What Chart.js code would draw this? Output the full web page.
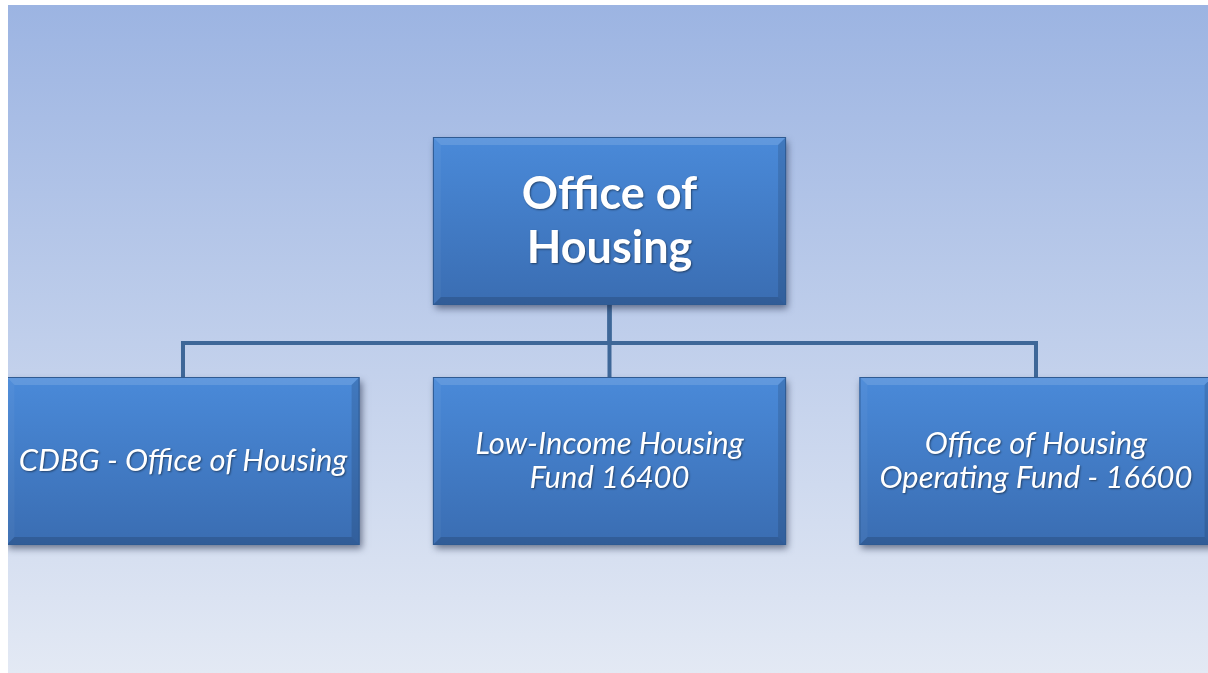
<!DOCTYPE html>
<html>
<head>
<meta charset="utf-8">
<script src="https://cdn.jsdelivr.net/npm/chart.js@4.4.1/dist/chart.umd.min.js"></script>
<style>
html, body { margin: 0; background: #fff; overflow: hidden; }
#wrap {
    position: absolute; left: 8px; top: 5px; width: 1200px; height: 668px;
    background: linear-gradient(#9cb4e2, #e3e9f4);
}
</style>
</head>
<body>
<div id="wrap"><canvas id="organograma"></canvas></div>
<script>
// nodes of the org chart
const nodeNames = [
    ['Office of', 'Housing'],
    ['CDBG - Office of Housing'],
    ['Low-Income Housing', 'Fund 16400'],
    ['Office of Housing', 'Operating Fund - 16600']
]
const nodeColumn = [1, 0, 1, 2]
const nodeLevel = [0, 1, 1, 1]
const nodeParent = [null, 0, 0, 0]

const boxW = 0.828
const boxH = 0.70
const busLevel = 0.508

// connector lines, built from the node arrays
const connectors = []
for (let i = 0; i < nodeNames.length; i++) {
    const p = nodeParent[i]
    if (p === null) continue
    connectors.push({
        data: [
            {x: nodeColumn[i], y: nodeLevel[i] - boxH / 2},
            {x: nodeColumn[i], y: busLevel},
            {x: nodeColumn[p], y: busLevel},
            {x: nodeColumn[p], y: nodeLevel[p] + boxH / 2}
        ],
        showLine: true,
        borderColor: '#3e6798',
        borderWidth: 4,
        pointRadius: 0,
        tension: 0,
        clip: false
    })
}

const caixas = {
    id: 'caixas',
    afterDatasetsDraw(chart) {
        const ctx = chart.ctx
        const sx = chart.scales.x
        const sy = chart.scales.y
        for (let i = 0; i < nodeNames.length; i++) {
            const x0 = sx.getPixelForValue(nodeColumn[i] - boxW / 2)
            const x1 = sx.getPixelForValue(nodeColumn[i] + boxW / 2)
            const y0 = sy.getPixelForValue(nodeLevel[i] - boxH / 2)
            const y1 = sy.getPixelForValue(nodeLevel[i] + boxH / 2)
            const w = x1 - x0, h = y1 - y0, b = 8

            ctx.save()
            ctx.shadowColor = 'rgba(20,30,60,0.55)'
            ctx.shadowBlur = 7
            ctx.shadowOffsetX = 2
            ctx.shadowOffsetY = 4
            const g = ctx.createLinearGradient(0, y0, 0, y1)
            g.addColorStop(0, '#4a8ad9')
            g.addColorStop(1, '#3a6db2')
            ctx.fillStyle = g
            ctx.fillRect(x0, y0, w, h)
            ctx.restore()

            // bevel
            ctx.save()
            const faces = [
                ['rgba(255,255,255,0.13)', [[x0, y0], [x1, y0], [x1 - b, y0 + b], [x0 + b, y0 + b]]],
                ['rgba(255,255,255,0.04)', [[x0, y0], [x0 + b, y0 + b], [x0 + b, y1 - b], [x0, y1]]],
                ['rgba(0,0,0,0.12)', [[x1, y0], [x1, y1], [x1 - b, y1 - b], [x1 - b, y0 + b]]],
                ['rgba(0,0,0,0.15)', [[x0, y1], [x0 + b, y1 - b], [x1 - b, y1 - b], [x1, y1]]]
            ]
            faces.forEach(f => {
                ctx.fillStyle = f[0]
                ctx.beginPath()
                f[1].forEach((pt, k) => k ? ctx.lineTo(pt[0], pt[1]) : ctx.moveTo(pt[0], pt[1]))
                ctx.closePath()
                ctx.fill()
            })
            ctx.strokeStyle = '#2f5b93'
            ctx.lineWidth = 1
            ctx.strokeRect(x0 + 0.5, y0 + 0.5, w - 1, h - 1)
            ctx.restore()

            // text
            ctx.save()
            const top = nodeLevel[i] === 0
            ctx.font = top ? 'bold 45px Lato' : 'italic 31px Lato'
            ctx.fillStyle = '#ffffff'
            ctx.textAlign = 'center'
            ctx.textBaseline = 'middle'
            ctx.shadowColor = 'rgba(0,0,0,0.45)'
            ctx.shadowBlur = 2
            ctx.shadowOffsetX = 1
            ctx.shadowOffsetY = 1
            const lh = top ? 54 : 34
            const lines = nodeNames[i]
            const cx = (x0 + x1) / 2, cy = (y0 + y1) / 2
            lines.forEach((t, k) => {
                ctx.fillText(t, cx, cy + (k - (lines.length - 1) / 2) * lh)
            })
            ctx.restore()
        }
    }
}

const graficoOrg = {
    type: 'scatter',
    data: { datasets: connectors },
    options: {
        responsive: true,
        maintainAspectRatio: false,
        animation: false,
        layout: { padding: 0 },
        plugins: { legend: { display: false }, tooltip: { enabled: false } },
        scales: {
            x: { type: 'linear', display: false, min: -0.4103, max: 2.4033 },
            y: { type: 'linear', display: false, reverse: true, min: -0.9, max: 1.8833 }
        }
    },
    plugins: [caixas]
}

const myChart = new Chart(document.getElementById('organograma'), graficoOrg)
</script>
</body>
</html>
